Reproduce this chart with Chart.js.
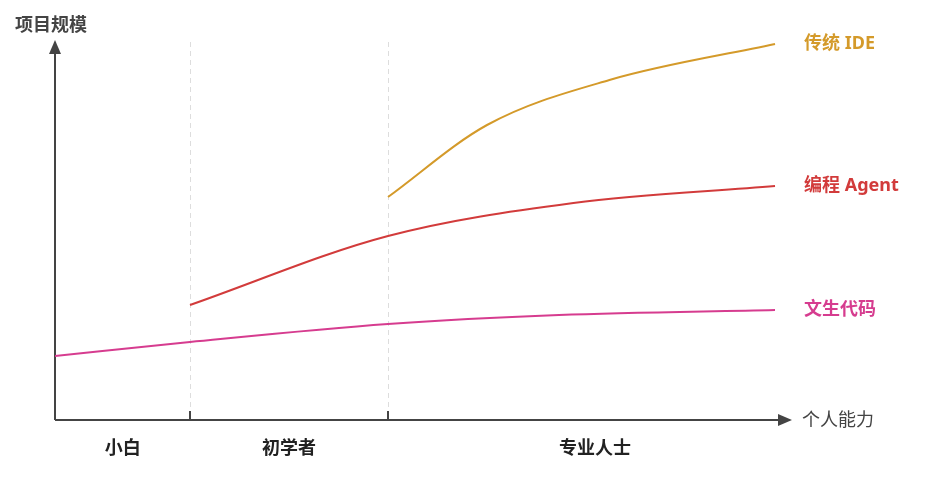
<!DOCTYPE html>
<html><head><meta charset="utf-8">
<script src="https://cdn.jsdelivr.net/npm/chart.js@4"></script>
<style>body{margin:0;background:#fff}#c{display:block}</style>
</head><body>
<div style="width:925px;height:479px"><canvas id="c"></canvas></div>
<script>
// x: 0..100 spans the plotted curves, y: arbitrary "project scale" units
const stageBounds = [18.75, 46.25];
const stageLabels = ['小白', '初学者', '专业人士'];
const stageCenters = [9.4, 32.5, 75];
const seriesNames = ['传统 IDE', '编程 Agent', '文生代码'];
const seriesColors = ['#d49a2a', '#d23b3b', '#d63c8f'];
const ideX = [46.25, 60, 77, 100];
const ideY = [223, 295, 340, 376];
const agentX = [18.75, 46.25, 72, 100];
const agentY = [115, 184, 217, 234];
const textX = [0, 18.75, 46.25, 70, 100];
const textY = [64, 78, 96, 105, 110];
const labelY = [376, 234, 110];

const toPts = (xs, ys) => xs.map((x, i) => ({ x, y: ys[i] }));
const font = w => `${w} 18px "Noto Sans", "Noto Sans CJK SC", sans-serif`;

const decor = {
  id: 'decor',
  beforeDatasetsDraw(chart) {
    const { ctx, chartArea: a, scales: { x, y } } = chart;
    ctx.save();
    ctx.strokeStyle = '#ddd'; ctx.lineWidth = 1; ctx.setLineDash([5, 4]);
    stageBounds.forEach(b => {
      const px = Math.round(x.getPixelForValue(b)) + 0.5;
      ctx.beginPath(); ctx.moveTo(px, a.top); ctx.lineTo(px, a.bottom); ctx.stroke();
    });
    ctx.setLineDash([]);
    ctx.strokeStyle = '#444'; ctx.fillStyle = '#444'; ctx.lineWidth = 2;
    ctx.beginPath(); ctx.moveTo(a.left, a.bottom); ctx.lineTo(a.right - 8, a.bottom); ctx.stroke();
    ctx.beginPath(); ctx.moveTo(a.left, a.bottom); ctx.lineTo(a.left, a.top + 8); ctx.stroke();
    ctx.beginPath(); ctx.moveTo(a.right + 2, a.bottom); ctx.lineTo(a.right - 12, a.bottom - 6); ctx.lineTo(a.right - 12, a.bottom + 6); ctx.fill();
    ctx.beginPath(); ctx.moveTo(a.left, a.top - 2); ctx.lineTo(a.left - 6, a.top + 12); ctx.lineTo(a.left + 6, a.top + 12); ctx.fill();
    stageBounds.forEach(b => {
      const px = x.getPixelForValue(b);
      ctx.beginPath(); ctx.moveTo(px, a.bottom); ctx.lineTo(px, a.bottom - 9); ctx.stroke();
    });
    ctx.textBaseline = 'middle';
    ctx.font = font('bold'); ctx.fillStyle = '#222'; ctx.textAlign = 'center';
    stageLabels.forEach((l, i) => ctx.fillText(l, x.getPixelForValue(stageCenters[i]), a.bottom + 29));
    ctx.fillStyle = '#444'; ctx.textAlign = 'left';
    ctx.fillText('项目规模', 15, 26);
    ctx.font = font('normal');
    ctx.fillText('个人能力', a.right + 12, a.bottom + 1);
    ctx.font = font('bold');
    seriesNames.forEach((n, i) => {
      ctx.fillStyle = seriesColors[i];
      ctx.fillText(n, x.getPixelForValue(100) + 29, y.getPixelForValue(labelY[i]));
    });
    ctx.restore();
  }
};

new Chart(document.getElementById('c'), {
  type: 'line',
  data: {
    datasets: [
      { data: toPts(ideX, ideY) },
      { data: toPts(agentX, agentY) },
      { data: toPts(textX, textY) }
    ].map((d, i) => ({ ...d, label: seriesNames[i], borderColor: seriesColors[i], borderWidth: 2, pointRadius: 0, cubicInterpolationMode: 'monotone' }))
  },
  options: {
    responsive: true, maintainAspectRatio: false, animation: false,
    layout: { padding: { left: 55, right: 135, top: 42, bottom: 59 } },
    plugins: { legend: { display: false }, tooltip: { enabled: false } },
    scales: {
      x: { type: 'linear', min: 0, max: 102.08, display: false },
      y: { min: 0, max: 378, display: false }
    }
  },
  plugins: [decor]
});
</script>
</body></html>
